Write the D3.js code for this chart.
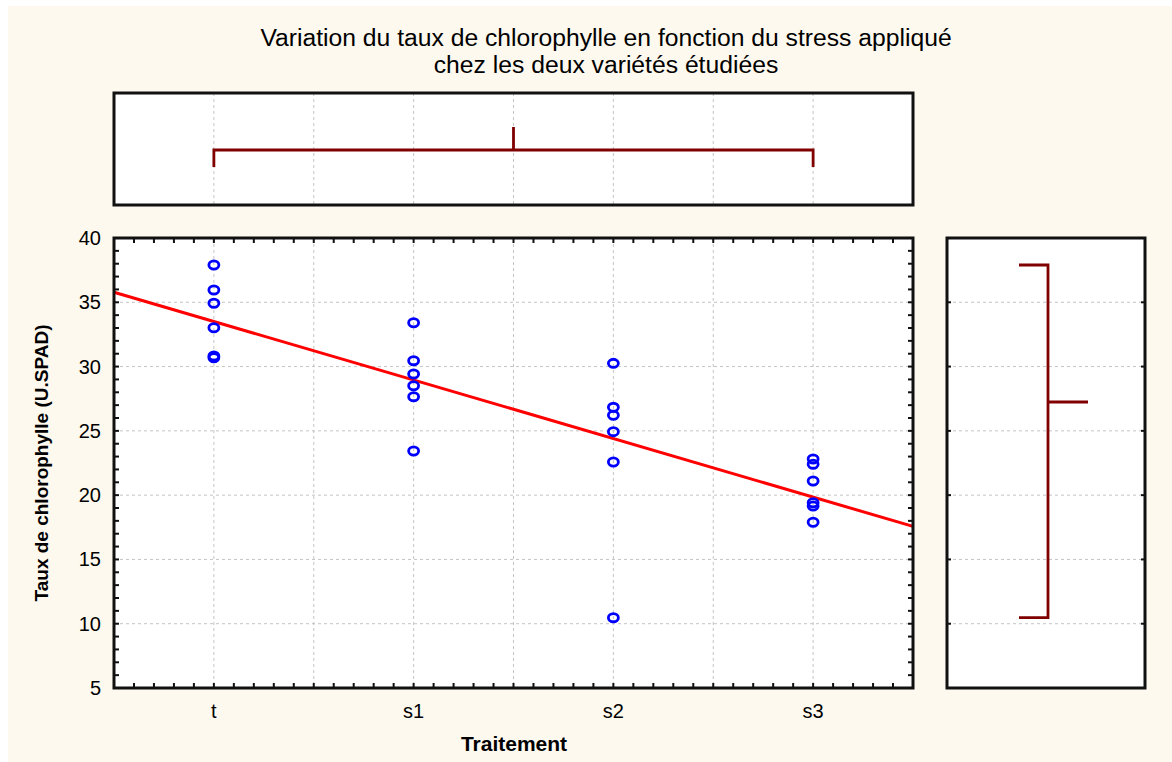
<!DOCTYPE html>
<html>
<head>
    <meta charset="utf-8">
    <title>Chlorophylle</title>
    <script src="https://cdnjs.cloudflare.com/ajax/libs/d3/7.8.5/d3.min.js"></script>
    <style>
        body {
            margin: 0;
            background: #fff;
            font-family: "Liberation Sans", Arial, Helvetica, sans-serif;
        }
    </style>
</head>

<body>
    <svg id="chart" width="1172" height="762"></svg>

    <script>
        // data
        const categories = ["t", "s1", "s2", "s3"];
        const valuesT  = [37.9, 35.96, 34.92, 33.02, 30.82, 30.69];
        const valuesS1 = [33.41, 30.46, 29.42, 28.51, 27.66, 23.43];
        const valuesS2 = [30.25, 26.83, 26.21, 24.94, 22.58, 10.47];
        const valuesS3 = [22.81, 22.40, 21.10, 19.41, 19.16, 17.89];
        const seriesValues = [valuesT, valuesS1, valuesS2, valuesS3];
        const yTickValues = [5, 10, 15, 20, 25, 30, 35, 40];

        const title1 = "Variation du taux de chlorophylle en fonction du stress appliqué";
        const title2 = "chez les deux variétés étudiées";

        // flatten into points, x = 1..4
        const points = [];
        seriesValues.forEach((vals, i) => {
            vals.forEach(v => points.push({ x: i + 1, y: v }));
        });

        // linear fit
        const mx = d3.mean(points, d => d.x);
        const my = d3.mean(points, d => d.y);
        const slope = d3.sum(points, d => (d.x - mx) * (d.y - my)) / d3.sum(points, d => (d.x - mx) ** 2);
        const intercept = my - slope * mx;

        const svg = d3.select("#chart");

        svg.append("rect")
            .attr("x", 8).attr("y", 6)
            .attr("width", 1164).attr("height", 756)
            .attr("fill", "#fef9ee");

        // layout
        const main = { left: 114, right: 913, top: 238, bottom: 688 };
        const topBox = { left: 114, right: 913, top: 93, bottom: 205 };
        const sideBox = { left: 947, right: 1145, top: 238, bottom: 688 };

        const x = d3.scaleLinear().domain([0.5, 4.5]).range([main.left, main.right]);
        const y = d3.scaleLinear().domain([5, 40]).range([main.bottom, main.top]);

        const gridColor = "#c4c4c4";
        const halfSteps = d3.range(1, 4.01, 0.5);
        const minorX = d3.range(0.5, 4.51, 0.1);
        const minorY = d3.range(5, 40.01, 1);
        const gridY = yTickValues.filter(v => v > 5 && v < 40);

        // ---------- title ----------
        svg.append("text")
            .attr("x", 606).attr("y", 46)
            .attr("text-anchor", "middle")
            .attr("font-size", 24.7)
            .text(title1);
        svg.append("text")
            .attr("x", 606).attr("y", 73)
            .attr("text-anchor", "middle")
            .attr("font-size", 24.7)
            .text(title2);

        function panel(b) {
            svg.append("rect")
                .attr("x", b.left).attr("y", b.top)
                .attr("width", b.right - b.left).attr("height", b.bottom - b.top)
                .attr("fill", "white");
        }
        function frame(b) {
            svg.append("rect")
                .attr("x", b.left).attr("y", b.top)
                .attr("width", b.right - b.left).attr("height", b.bottom - b.top)
                .attr("fill", "none")
                .attr("stroke", "#111")
                .attr("stroke-width", 3);
        }

        // ---------- main scatter ----------
        panel(main);

        svg.append("g").selectAll("line")
            .data(halfSteps)
            .join("line")
            .attr("x1", d => x(d)).attr("x2", d => x(d))
            .attr("y1", main.top).attr("y2", main.bottom)
            .attr("stroke", gridColor).attr("stroke-dasharray", "3,3");
        svg.append("g").selectAll("line")
            .data(gridY)
            .join("line")
            .attr("y1", d => y(d)).attr("y2", d => y(d))
            .attr("x1", main.left).attr("x2", main.right)
            .attr("stroke", gridColor).attr("stroke-dasharray", "3,3");

        // inward ticks on all four sides
        const ticks = svg.append("g").attr("stroke", "#111").attr("stroke-width", 2);
        minorX.forEach(v => {
            ticks.append("line").attr("x1", x(v)).attr("x2", x(v)).attr("y1", main.bottom).attr("y2", main.bottom - 5);
            ticks.append("line").attr("x1", x(v)).attr("x2", x(v)).attr("y1", main.top).attr("y2", main.top + 5);
        });
        minorY.forEach(v => {
            ticks.append("line").attr("y1", y(v)).attr("y2", y(v)).attr("x1", main.left).attr("x2", main.left + 5);
            ticks.append("line").attr("y1", y(v)).attr("y2", y(v)).attr("x1", main.right).attr("x2", main.right - 5);
        });

        // regression line
        svg.append("line")
            .attr("x1", x(0.5)).attr("y1", y(intercept + slope * 0.5))
            .attr("x2", x(4.5)).attr("y2", y(intercept + slope * 4.5))
            .attr("stroke", "#ff0000")
            .attr("stroke-width", 3);

        svg.append("g").selectAll("ellipse")
            .data(points)
            .join("ellipse")
            .attr("cx", d => x(d.x))
            .attr("cy", d => y(d.y))
            .attr("rx", 5)
            .attr("ry", 4.1)
            .attr("fill", "none")
            .attr("stroke", "#0000ff")
            .attr("stroke-width", 2.8);

        frame(main);

        // axis labels
        svg.append("g").selectAll("text")
            .data(yTickValues)
            .join("text")
            .attr("x", 101)
            .attr("y", d => y(d) + 7)
            .attr("text-anchor", "end")
            .attr("font-size", 20)
            .text(d => d);
        svg.append("g").selectAll("text")
            .data(categories)
            .join("text")
            .attr("x", (d, i) => x(i + 1))
            .attr("y", 718)
            .attr("text-anchor", "middle")
            .attr("font-size", 20)
            .text(d => d);

        svg.append("text")
            .attr("x", 514).attr("y", 751)
            .attr("text-anchor", "middle")
            .attr("font-size", 21)
            .attr("font-weight", "bold")
            .text("Traitement");
        svg.append("text")
            .attr("transform", `translate(48,${(main.top + main.bottom) / 2}) rotate(-90)`)
            .attr("text-anchor", "middle")
            .attr("font-size", 19)
            .attr("font-weight", "bold")
            .text("Taux de chlorophylle (U.SPAD)");

        // ---------- top marginal (x range / median) ----------
        panel(topBox);
        svg.append("g").selectAll("line")
            .data(halfSteps)
            .join("line")
            .attr("x1", d => x(d)).attr("x2", d => x(d))
            .attr("y1", topBox.top).attr("y2", topBox.bottom)
            .attr("stroke", gridColor).attr("stroke-dasharray", "3,3");
        halfSteps.forEach(v => {
            ticks.append("line").attr("x1", x(v)).attr("x2", x(v)).attr("y1", topBox.top).attr("y2", topBox.top + 4);
            ticks.append("line").attr("x1", x(v)).attr("x2", x(v)).attr("y1", topBox.bottom).attr("y2", topBox.bottom - 4);
        });
        const xs = points.map(d => d.x);
        const xMin = d3.min(xs), xMax = d3.max(xs), xMed = d3.median(xs);
        const midTop = 150;
        svg.append("path")
            .attr("d", `M${x(xMin)},${midTop + 17}V${midTop}H${x(xMax)}V${midTop + 17}M${x(xMed)},${midTop}V${midTop - 23}`)
            .attr("fill", "none")
            .attr("stroke", "#800000")
            .attr("stroke-width", 2.8);
        frame(topBox);

        // ---------- right marginal (y range / median) ----------
        panel(sideBox);
        svg.append("g").selectAll("line")
            .data(gridY)
            .join("line")
            .attr("y1", d => y(d)).attr("y2", d => y(d))
            .attr("x1", sideBox.left).attr("x2", sideBox.right)
            .attr("stroke", gridColor).attr("stroke-dasharray", "3,3");
        const ticks2 = svg.append("g").attr("stroke", "#111").attr("stroke-width", 2);
        gridY.forEach(v => {
            ticks2.append("line").attr("y1", y(v)).attr("y2", y(v)).attr("x1", sideBox.left).attr("x2", sideBox.left + 4);
            ticks2.append("line").attr("y1", y(v)).attr("y2", y(v)).attr("x1", sideBox.right).attr("x2", sideBox.right - 4);
        });
        const ys = points.map(d => d.y);
        const yMin = d3.min(ys), yMax = d3.max(ys), yMed = d3.median(ys);
        const midSide = 1048;
        svg.append("path")
            .attr("d", `M${midSide - 29},${y(yMax)}H${midSide}V${y(yMin)}H${midSide - 29}M${midSide},${y(yMed)}H${midSide + 40}`)
            .attr("fill", "none")
            .attr("stroke", "#800000")
            .attr("stroke-width", 2.8);
        frame(sideBox);
    </script>
</body>
</html>
